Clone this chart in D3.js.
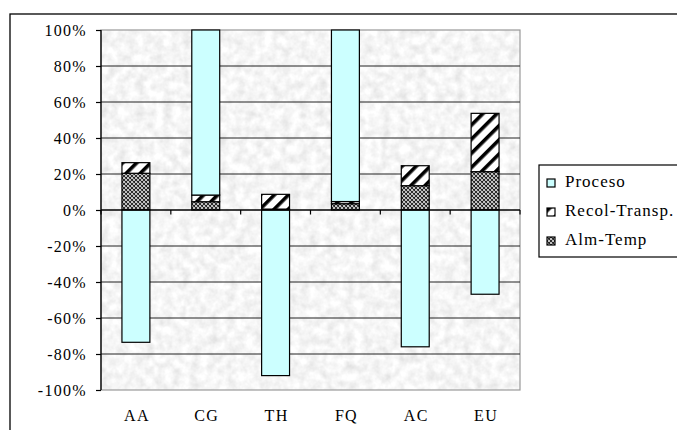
<!DOCTYPE html>
<html>
<head>
<meta charset="utf-8">
<script src="https://cdn.jsdelivr.net/npm/d3@7"></script>
<style>
  html, body { margin: 0; padding: 0; background: #fff; }
  svg { display: block; }
  text { font-family: "Liberation Serif", "Times New Roman", serif; fill: #000; }
</style>
</head>
<body>
<svg id="chart" width="677" height="430"></svg>
<script>
// Category labels and the three stacked series (percent)
const categories = ["AA", "CG", "TH", "FQ", "AC", "EU"];
const proceso    = [-73.5, 91.7, -92.0, 95.3, -76.0, -46.8];
const recolTransp = [5.9, 3.7, 8.2, 1.2, 11.1, 32.4];
const almTemp    = [20.4, 4.6, 0.5, 3.5, 13.5, 21.3];
const yTicks     = [-100, -80, -60, -40, -20, 0, 20, 40, 60, 80, 100];

const seriesKeys = ["almTemp", "recolTransp", "proceso"];
const legendItems = [
  { key: "proceso", label: "Proceso" },
  { key: "recolTransp", label: "Recol-Transp." },
  { key: "almTemp", label: "Alm-Temp" }
];

const rows = categories.map((c, i) => ({
  cat: c, proceso: proceso[i], recolTransp: recolTransp[i], almTemp: almTemp[i]
}));

const svg = d3.select("#chart");
const defs = svg.append("defs");

// granite plot-area fill
const f = defs.append("filter").attr("id", "granite")
  .attr("x", 0).attr("y", 0).attr("width", 1).attr("height", 1);
f.append("feTurbulence").attr("type", "fractalNoise")
  .attr("baseFrequency", 0.11).attr("numOctaves", 3).attr("seed", 7).attr("result", "n");
f.append("feColorMatrix").attr("type", "saturate").attr("values", 0).attr("result", "g");
const ct = f.append("feComponentTransfer");
["feFuncR", "feFuncG", "feFuncB"].forEach(fn =>
  ct.append(fn).attr("type", "linear").attr("slope", 0.5).attr("intercept", 0.67));
ct.append("feFuncA").attr("type", "linear").attr("slope", 0).attr("intercept", 1);

// wide diagonal stripes
const stripe = defs.append("pattern").attr("id", "stripes")
  .attr("patternUnits", "userSpaceOnUse").attr("width", 10).attr("height", 10)
  .attr("patternTransform", "rotate(45)");
stripe.append("rect").attr("width", 10).attr("height", 10).attr("fill", "#fff");
stripe.append("rect").attr("width", 3.6).attr("height", 10).attr("fill", "#000");

// fine crosshatch lattice
const hatch = defs.append("pattern").attr("id", "hatch")
  .attr("patternUnits", "userSpaceOnUse").attr("width", 4).attr("height", 4);
hatch.append("rect").attr("width", 4).attr("height", 4).attr("fill", "#fff");
hatch.append("path").attr("d", "M0,0L4,4M4,0L0,4M-1,3L1,5M3,-1L5,1M-1,1L1,-1M3,5L5,3")
  .attr("stroke", "#222").attr("stroke-width", 1.1);

const fills = { proceso: "#CCFFFF", recolTransp: "url(#stripes)", almTemp: "url(#hatch)" };

// chart frame
svg.append("rect").attr("x", 10).attr("y", 14).attr("width", 720).attr("height", 480)
  .attr("fill", "none").attr("stroke", "#000").attr("stroke-width", 1.3);

const plot = { left: 101, right: 520, top: 30, bottom: 390 };

const x = d3.scaleBand().domain(categories)
  .range([plot.left, plot.right]).paddingInner(0.6).paddingOuter(0.3);
const y = d3.scaleLinear().domain([-100, 100]).range([plot.bottom, plot.top]);

// plot background
svg.append("rect").attr("x", plot.left).attr("y", plot.top)
  .attr("width", plot.right - plot.left).attr("height", plot.bottom - plot.top)
  .attr("filter", "url(#granite)");
svg.append("rect").attr("x", plot.left).attr("y", plot.top)
  .attr("width", plot.right - plot.left).attr("height", plot.bottom - plot.top)
  .attr("fill", "none").attr("stroke", "#999").attr("stroke-width", 1.2);

// gridlines
svg.append("g").selectAll("line").data(yTicks.filter(t => t !== 100 && t !== -100 && t !== 0))
  .join("line")
  .attr("x1", plot.left).attr("x2", plot.right)
  .attr("y1", d => y(d)).attr("y2", d => y(d))
  .attr("stroke", "#222").attr("stroke-width", 1);

// y axis
const yAxis = svg.append("g").attr("transform", `translate(${plot.left},0)`)
  .call(d3.axisLeft(y).tickValues(yTicks).tickSize(5).tickPadding(9)
    .tickFormat(d => d + "%"));
yAxis.select(".domain").attr("stroke", "#000").attr("stroke-width", 1.3)
  .attr("d", `M0,${plot.top}V${plot.bottom}`);
yAxis.selectAll(".tick line").attr("stroke", "#000").attr("stroke-width", 1.2);
yAxis.selectAll(".tick text")
  .style("font-family", '"Liberation Serif", "Times New Roman", serif')
  .attr("font-size", 16).attr("letter-spacing", 1.3).attr("fill", "#000")
  .attr("dy", "0.36em");

// stacked bars (positive above, negative below zero)
const stacked = d3.stack().keys(seriesKeys).offset(d3.stackOffsetDiverging)(rows);
svg.append("g").selectAll("g").data(stacked).join("g")
  .attr("fill", d => fills[d.key])
  .selectAll("rect").data(d => d).join("rect")
  .attr("x", d => x(d.data.cat))
  .attr("width", x.bandwidth())
  .attr("y", d => y(Math.max(d[0], d[1])))
  .attr("height", d => Math.abs(y(d[0]) - y(d[1])))
  .attr("stroke", "#000").attr("stroke-width", 1.2);

// category axis along zero
const step = x.step();
const boundaries = d3.range(categories.length + 1).map(i => plot.left + i * step);
svg.append("line").attr("x1", plot.left).attr("x2", plot.right)
  .attr("y1", y(0)).attr("y2", y(0)).attr("stroke", "#000").attr("stroke-width", 1.3);
svg.append("g").selectAll("line").data(boundaries).join("line")
  .attr("x1", d => d).attr("x2", d => d)
  .attr("y1", y(0)).attr("y2", y(0) + 4.5)
  .attr("stroke", "#000").attr("stroke-width", 1.2);

svg.append("g").selectAll("text").data(categories).join("text")
  .attr("x", d => x(d) + x.bandwidth() / 2 + 1)
  .attr("y", 421)
  .attr("text-anchor", "middle")
  .attr("font-size", 16).attr("letter-spacing", 1.3)
  .text(d => d);

// legend
svg.append("rect").attr("x", 539).attr("y", 165).attr("width", 200).attr("height", 92)
  .attr("fill", "#fff").attr("stroke", "#000").attr("stroke-width", 1.2);
const lg = svg.append("g").selectAll("g").data(legendItems).join("g")
  .attr("transform", (d, i) => `translate(547,${179 + i * 29})`);
lg.append("rect").attr("width", 8).attr("height", 8)
  .attr("fill", d => fills[d.key]).attr("stroke", "#000").attr("stroke-width", 1.2);
lg.append("text").attr("x", 18).attr("y", 8)
  .attr("font-size", 17).attr("letter-spacing", 1.0)
  .text(d => d.label);
</script>
</body>
</html>
